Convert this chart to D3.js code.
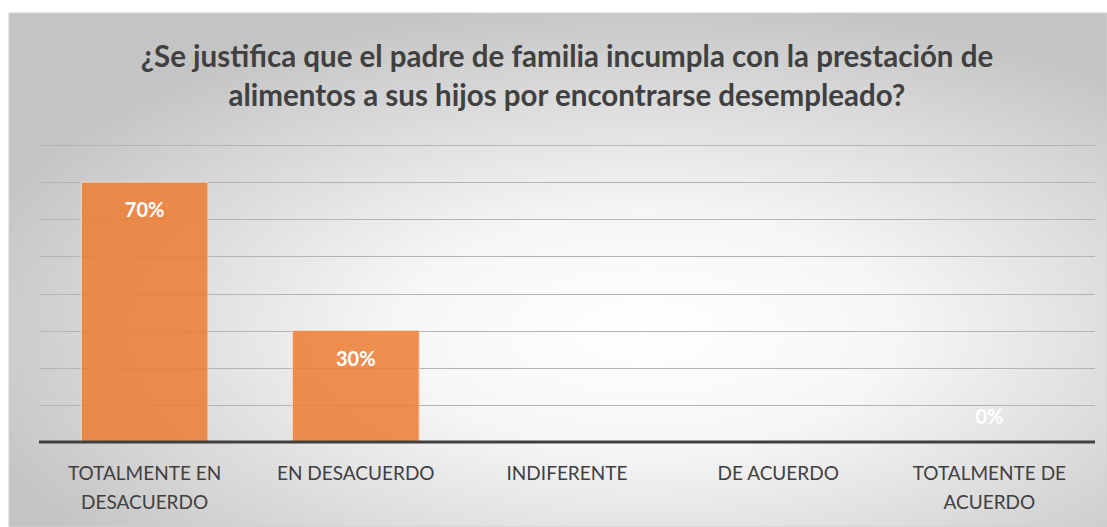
<!DOCTYPE html>
<html>
<head>
<meta charset="utf-8">
<script src="https://cdn.jsdelivr.net/npm/d3@7"></script>
<style>
  body { margin: 0; background: #fff; }
  svg { display: block; }
</style>
</head>
<body>
<div id="container"></div>
<script>
// data
const categories = [["TOTALMENTE EN", "DESACUERDO"], ["EN DESACUERDO"], ["INDIFERENTE"], ["DE ACUERDO"], ["TOTALMENTE DE", "ACUERDO"]]
const values = [0.70, 0.30, 0, 0, 0]
const valueLabels = ["70%", "30%", "", "", "0%"]
const titleLines = ["¿Se justifica que el padre de familia incumpla con la prestación de",
                    "alimentos a sus hijos por encontrarse desempleado?"]
const gridTicks = [0.1, 0.2, 0.3, 0.4, 0.5, 0.6, 0.7, 0.8]

const W = 1107, H = 527
const font = "Lato, 'Open Sans', sans-serif"

const svg = d3.select("#container").append("svg")
  .attr("width", W).attr("height", H)

const defs = svg.append("defs")
const grad = defs.append("radialGradient").attr("id", "bg")
  .attr("cx", "58%").attr("cy", "62%").attr("r", "65%")
grad.append("stop").attr("offset", "0%").attr("stop-color", "#ffffff")
grad.append("stop").attr("offset", "35%").attr("stop-color", "#f6f6f6")
grad.append("stop").attr("offset", "100%").attr("stop-color", "#c4c4c4")

svg.append("rect")
  .attr("x", 9).attr("y", 13).attr("width", W - 9).attr("height", H - 13)
  .attr("fill", "url(#bg)")
  .attr("stroke", "#d0d0d0").attr("stroke-width", 1)

// scales
const x = d3.scaleBand()
  .domain(d3.range(categories.length))
  .range([39, 1095])
  .paddingInner(0.4)
  .paddingOuter(0.2)

const y = d3.scaleLinear()
  .domain([0, 0.8])
  .range([442, 145])

// gridlines
svg.append("g")
  .selectAll("line")
  .data(gridTicks)
  .enter()
  .append("line")
  .attr("x1", 39).attr("x2", 1095)
  .attr("y1", d => Math.round(y(d)) + 0.5)
  .attr("y2", d => Math.round(y(d)) + 0.5)
  .attr("stroke", "#b4b4b4")
  .attr("stroke-width", 1)

// bars
svg.append("g")
  .selectAll("rect")
  .data(values)
  .enter()
  .append("rect")
  .attr("x", (d, i) => x(i))
  .attr("y", d => y(d))
  .attr("width", x.bandwidth())
  .attr("height", d => y(0) - y(d))
  .attr("fill", "#ed7d31")
  .attr("fill-opacity", 0.85)
  .attr("stroke", "#f8d8c0")
  .attr("stroke-width", d => d > 0 ? 1 : 0)

// baseline
svg.append("line")
  .attr("x1", 39).attr("x2", 1095)
  .attr("y1", y(0)).attr("y2", y(0))
  .attr("stroke", "#404040")
  .attr("stroke-width", 3)

// value labels (inside end; zero sits just above the axis)
svg.append("g")
  .selectAll("text")
  .data(values)
  .enter()
  .append("text")
  .attr("x", (d, i) => x(i) + x.bandwidth() / 2)
  .attr("y", d => d > 0 ? y(d) + 35 : y(0) - 18)
  .attr("text-anchor", "middle")
  .attr("font-family", font)
  .attr("font-weight", "bold")
  .attr("font-size", 20)
  .attr("fill", "#ffffff")
  .text((d, i) => valueLabels[i])

// category labels
const cat = svg.append("g")
  .selectAll("text")
  .data(categories)
  .enter()
  .append("text")
  .attr("x", (d, i) => x(i) + x.bandwidth() / 2)
  .attr("y", 480)
  .attr("text-anchor", "middle")
  .attr("font-family", font)
  .attr("font-size", 19)
  .attr("fill", "#404040")
cat.selectAll("tspan")
  .data(d => d)
  .enter()
  .append("tspan")
  .attr("x", function () { return d3.select(this.parentNode).attr("x") })
  .attr("dy", (d, j) => j == 0 ? 0 : 29)
  .text(d => d)

// title
svg.append("text")
  .attr("x", 567)
  .attr("y", 67)
  .attr("text-anchor", "middle")
  .attr("font-family", font)
  .attr("font-weight", "bold")
  .attr("font-size", 29.5)
  .attr("fill", "#404040")
  .selectAll("tspan")
  .data(titleLines)
  .enter()
  .append("tspan")
  .attr("x", 567)
  .attr("dy", (d, j) => j == 0 ? 0 : 39)
  .text(d => d)
</script>
</body>
</html>
